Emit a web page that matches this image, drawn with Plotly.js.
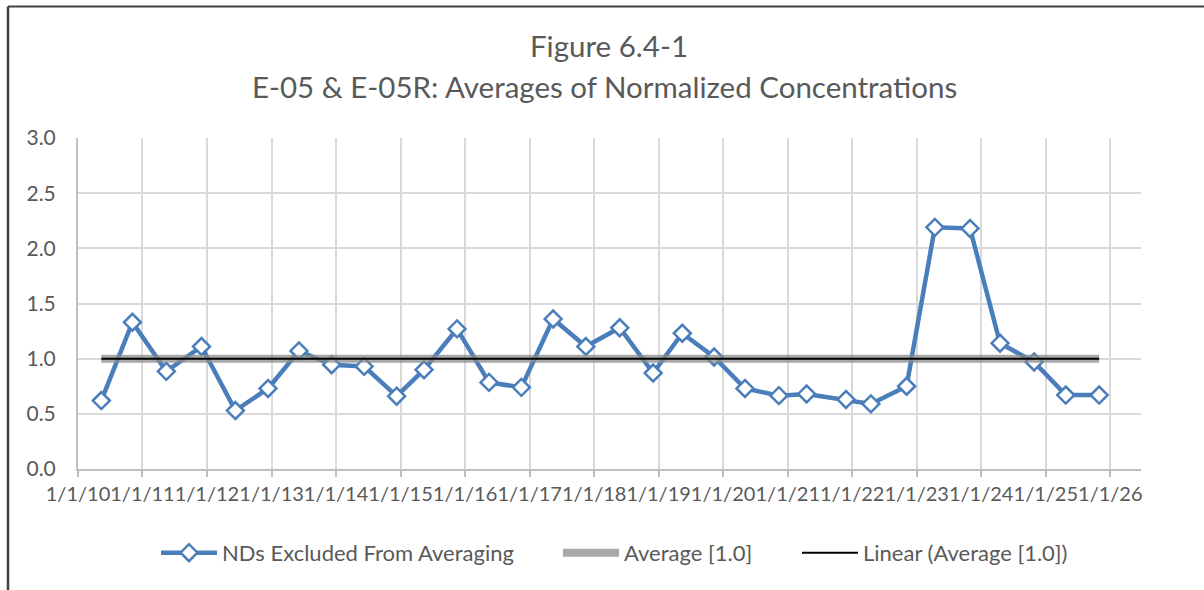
<!DOCTYPE html>
<html>
<head>
<meta charset="utf-8">
<script src="https://cdn.plot.ly/plotly-3.0.1.min.js"></script>
<style>
  html, body { margin: 0; padding: 0; background: #ffffff; }
  #chart { width: 1204px; height: 590px; }
</style>
</head>
<body>
<div id="chart"></div>
<script>
// ---- Data ----
const sampleDates = [
  '2010-05-13','2010-11-05','2011-05-16','2011-12-01','2012-06-10','2012-12-12',
  '2013-06-05','2013-12-07','2014-06-09','2014-12-10','2015-05-14','2015-11-17',
  '2016-05-16','2016-11-15','2017-05-14','2017-11-15','2018-05-26','2018-12-01',
  '2019-05-15','2019-11-11','2020-05-04','2020-11-12','2021-04-18','2021-11-27',
  '2022-04-17','2022-11-05','2023-04-14','2023-10-30','2024-04-17','2024-10-27',
  '2025-04-24','2025-10-30'
];
const ndsExcluded = [
  0.62, 1.33, 0.885, 1.11, 0.53, 0.73,
  1.07, 0.945, 0.93, 0.66, 0.90, 1.27,
  0.785, 0.74, 1.36, 1.11, 1.28, 0.87,
  1.23, 1.015, 0.73, 0.665, 0.68, 0.63,
  0.59, 0.75, 2.19, 2.18, 1.14, 0.97,
  0.67, 0.67
];
const averageValue = 1.0;
const seriesNames = ['NDs Excluded From Averaging', 'Average [1.0]', 'Linear (Average [1.0])'];
const titleLine1 = 'Figure 6.4-1';
const titleLine2 = 'E-05 &amp; E-05R: Averages of Normalized Concentrations';
const yTickVals = [0, 0.5, 1.0, 1.5, 2.0, 2.5, 3.0];
const yTickText = ['0.0', '0.5', '1.0', '1.5', '2.0', '2.5', '3.0'];
const xTickVals = ['2010-01-01','2011-01-01','2012-01-01','2013-01-01','2014-01-01','2015-01-01',
  '2016-01-01','2017-01-01','2018-01-01','2019-01-01','2020-01-01','2021-01-01','2022-01-01',
  '2023-01-01','2024-01-01','2025-01-01','2026-01-01'];
const xTickText = ['1/1/10','1/1/11','1/1/12','1/1/13','1/1/14','1/1/15','1/1/16','1/1/17',
  '1/1/18','1/1/19','1/1/20','1/1/21','1/1/22','1/1/23','1/1/24','1/1/25','1/1/26'];

const avgX = [sampleDates[0], sampleDates[sampleDates.length - 1]];
const avgY = [averageValue, averageValue];

const FONT = 'Lato, Carlito, Calibri, "Open Sans", sans-serif';
const TEXT = '#595959';
const BLUE = '#4a7ebb';

const traces = [
  {
    x: sampleDates, y: ndsExcluded, name: seriesNames[0],
    type: 'scatter', mode: 'lines+markers',
    line: { color: BLUE, width: 4.5 },
    marker: { symbol: 'diamond', size: 13, color: '#ffffff', line: { color: BLUE, width: 2.5 } },
    legend: 'legend',
    hoverinfo: 'skip'
  },
  {
    x: avgX, y: avgY, name: seriesNames[1],
    type: 'scatter', mode: 'lines',
    line: { color: 'rgba(140,140,140,0.75)', width: 8 },
    legend: 'legend2',
    hoverinfo: 'skip'
  },
  {
    x: avgX, y: avgY, name: seriesNames[2],
    type: 'scatter', mode: 'lines',
    line: { color: '#000000', width: 2 },
    legend: 'legend3',
    hoverinfo: 'skip'
  }
];

function legendAt(px) {
  return {
    orientation: 'h',
    x: (px - 78) / 1063, xanchor: 'left',
    y: -0.19, yanchor: 'top',
    font: { family: FONT, size: 22, color: TEXT },
    itemwidth: 56,
    bgcolor: 'rgba(0,0,0,0)'
  };
}

const layout = {
  width: 1204, height: 590,
  paper_bgcolor: '#ffffff', plot_bgcolor: '#ffffff',
  margin: { l: 78, r: 63, t: 138, b: 121, pad: 0 },
  font: { family: FONT, color: TEXT, size: 21 },
  title: {
    text: titleLine1,
    font: { family: FONT, size: 29.5, color: TEXT },
    x: 609 / 1204, xref: 'container', xanchor: 'center',
    y: 1 - 47 / 590, yref: 'container', yanchor: 'middle'
  },
  annotations: [
    { text: titleLine2, showarrow: false,
      xref: 'paper', yref: 'paper',
      x: (604 - 78) / 1063, xanchor: 'center',
      y: (469 - 86) / 331, yanchor: 'middle',
      font: { family: FONT, size: 29.5, color: TEXT } }
  ],
  xaxis: {
    type: 'date',
    range: ['2010-01-01', '2026-06-24'],
    tickvals: xTickVals, ticktext: xTickText,
    tickangle: 0,
    showgrid: true, gridcolor: '#d9d9d9', gridwidth: 2,
    showline: true, linecolor: '#bfbfbf', linewidth: 2,
    ticks: 'outside', ticklen: 6, tickcolor: '#bfbfbf', tickwidth: 2,
    tickfont: { family: FONT, size: 20, color: TEXT },
    zeroline: false, fixedrange: true
  },
  yaxis: {
    range: [0, 3.0],
    tickvals: yTickVals, ticktext: yTickText,
    showgrid: true, gridcolor: '#d9d9d9', gridwidth: 2,
    showline: true, linecolor: '#bfbfbf', linewidth: 2,
    ticks: '', ticklabelstandoff: 16,
    tickfont: { family: FONT, size: 21, color: TEXT },
    zeroline: false, fixedrange: true
  },
  showlegend: true,
  legend: legendAt(156),
  legend2: legendAt(558),
  legend3: legendAt(797),
  shapes: [
    { type: 'line', xref: 'paper', yref: 'paper',
      x0: (8 - 78) / 1063, x1: 1.2, y0: (469 - 6.5) / 331, y1: (469 - 6.5) / 331,
      line: { color: '#404040', width: 2 } },
    { type: 'line', xref: 'paper', yref: 'paper',
      x0: (8 - 78) / 1063, x1: (8 - 78) / 1063, y0: (469 - 6.5) / 331, y1: -0.5,
      line: { color: '#404040', width: 2.5 } }
  ]
};

Plotly.newPlot('chart', traces, layout, { displayModeBar: false, staticPlot: true });
</script>
</body>
</html>
